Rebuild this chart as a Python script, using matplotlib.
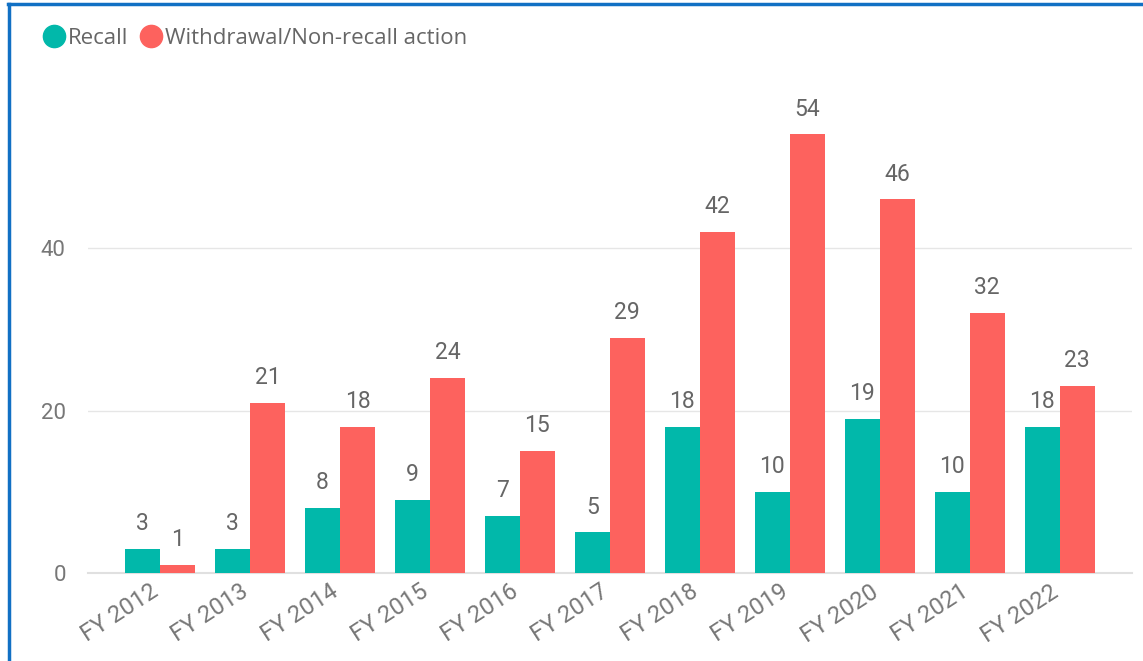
import matplotlib.pyplot as plt
from matplotlib.lines import Line2D
import matplotlib.transforms as mtransforms
import numpy as np

# Data
years = ["FY 2012", "FY 2013", "FY 2014", "FY 2015", "FY 2016", "FY 2017",
         "FY 2018", "FY 2019", "FY 2020", "FY 2021", "FY 2022"]
recall = [3, 3, 8, 9, 7, 5, 18, 10, 19, 10, 18]
withdrawal = [1, 21, 18, 24, 15, 29, 42, 54, 46, 32, 23]

teal = "#01B8AA"
red = "#FD625E"
text_gray = "#666666"
tick_gray = "#777777"

fig = plt.figure(figsize=(11.43, 6.61), dpi=100)
ax = fig.add_axes([0.077, 0.133, 0.913, 0.725])

x = np.arange(len(years))
w = 0.39
b1 = ax.bar(x - w / 2, recall, w, color=teal, zorder=3)
b2 = ax.bar(x + w / 2, withdrawal, w, color=red, zorder=3)

# data labels
for bars in (b1, b2):
    for rect in bars:
        h = rect.get_height()
        ax.annotate(f"{h:.0f}", (rect.get_x() + rect.get_width() / 2, h),
                    xytext=(0, 10), textcoords="offset points",
                    ha="center", va="bottom", fontsize=16.5,
                    family="Roboto", color=text_gray)

ax.set_xlim(-0.8, len(years) - 0.2)
ax.set_ylim(0, 59)
ax.set_yticks([0, 20, 40])
ax.grid(axis="y", color="#e6e6e6", linewidth=1, zorder=0)
ax.set_xticks(x)
ax.set_xticklabels(years, rotation=33, ha="right", va="baseline",
                   rotation_mode="anchor", family="Roboto", fontsize=17,
                   color=tick_gray)
shift = mtransforms.ScaledTranslation(-3 / 100, 0, fig.dpi_scale_trans)
for lbl in ax.get_xticklabels():
    lbl.set_transform(lbl.get_transform() + shift)
for lbl in ax.get_yticklabels():
    lbl.set_family("Roboto")
    lbl.set_fontsize(16)
    lbl.set_color(tick_gray)
ax.tick_params(axis="both", length=0)
ax.tick_params(axis="y", pad=16)
ax.tick_params(axis="x", pad=16)
for s in ["top", "right", "left"]:
    ax.spines[s].set_visible(False)
ax.spines["bottom"].set_color("#e0e0e0")
ax.spines["bottom"].set_linewidth(1.5)

# legend
handles = [Line2D([], [], marker="o", linestyle="", markersize=16,
                  markerfacecolor=teal, markeredgecolor=teal),
           Line2D([], [], marker="o", linestyle="", markersize=16,
                  markerfacecolor=red, markeredgecolor=red)]
fig.legend(handles, ["Recall", "Withdrawal/Non-recall action"],
           loc="center left", bbox_to_anchor=(0.0359, 0.9425), ncol=2,
           frameon=False, borderpad=0, borderaxespad=0,
           handletextpad=0.0, columnspacing=0.45,
           handlelength=1.2, prop={"family": "Open Sans", "size": 16},
           labelcolor=text_gray)

# blue frame on top and left edges
fig.add_artist(Line2D([0.007, 1.0], [0.994, 0.994], color="#1170C4",
                      linewidth=2.5, transform=fig.transFigure))
fig.add_artist(Line2D([0.0075, 0.0075], [0.0, 0.994], color="#1170C4",
                      linewidth=2.5, transform=fig.transFigure))

fig.savefig("out.png", dpi=100)
